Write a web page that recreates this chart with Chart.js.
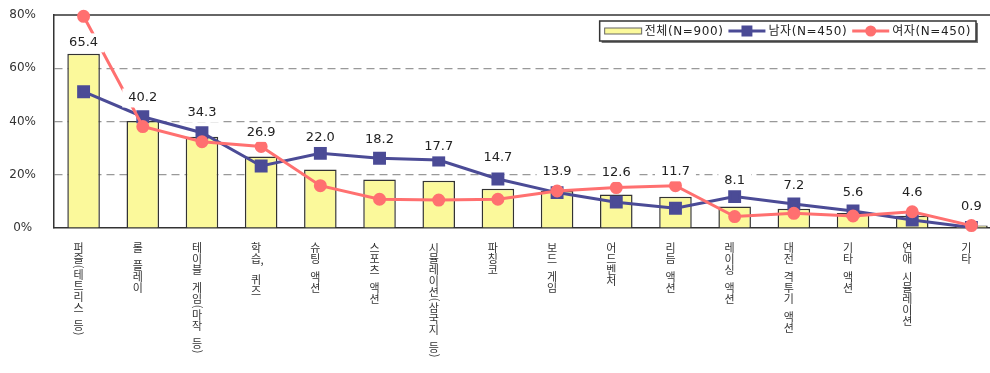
<!DOCTYPE html>
<html lang="ko">
<head>
<meta charset="utf-8">
<title>게임 장르별 선호도</title>
<script src="https://cdn.jsdelivr.net/npm/chart.js@4.4.1/dist/chart.umd.min.js"></script>
<style>
  html, body { margin: 0; padding: 0; background: #fff; overflow: hidden; }
  #wrap { width: 990px; height: 373px; overflow: hidden; }
  canvas { display: block; }
</style>
</head>
<body>
<div id="wrap"><canvas id="genre-chart" width="1001" height="373"></canvas></div>
<script>
// Preferred game genres, % of respondents
const genres = [
  '퍼즐(테트리스 등)', '롤 플레이', '테이블 게임(마작 등)', '학습, 퀴즈',
  '슈팅 액션', '스포츠 액션', '시뮬레이션(삼국지 등)', '파칭코',
  '보드 게임', '어드벤처', '리듬 액션', '레이싱 액션',
  '대전 격투기 액션', '기타 액션', '연애 시뮬레이션', '기타'
];
const totalPct = [65.4, 40.2, 34.3, 26.9, 22.0, 18.2, 17.7, 14.7, 13.9, 12.6, 11.7, 8.1, 7.2, 5.6, 4.6, 0.9];
const malePct = [51.2, 41.8, 35.8, 23.3, 28.1, 26.2, 25.5, 18.4, 13.3, 9.7, 7.4, 11.8, 9.0, 6.4, 3.0, 0.2];
const femalePct = [79.5, 38.1, 32.4, 30.6, 15.9, 10.8, 10.5, 10.8, 13.9, 15.2, 15.9, 4.3, 5.5, 4.5, 6.1, 0.9];
const seriesNames = ['전체(N=900)', '남자(N=450)', '여자(N=450)'];
const yTicks = [0, 20, 40, 60, 80];

const PLOT_LEFT = 54;
const PLOT_BOTTOM = 228;
const latinFont = '"DejaVu Sans", "Noto Sans CJK KR", sans-serif';

// solid frame line along the top of the plot
const topFrame = {
  id: 'topFrame',
  beforeDatasetsDraw(chart) {
    const { ctx, chartArea } = chart;
    ctx.save();
    ctx.strokeStyle = '#333';
    ctx.lineWidth = 1.5;
    ctx.beginPath();
    ctx.moveTo(chartArea.left, chartArea.top);
    ctx.lineTo(chart.width, chartArea.top);
    ctx.stroke();
    ctx.restore();
  }
};

// category names written top-to-bottom under each bar
const stackedLabels = {
  id: 'stackedLabels',
  afterDraw(chart) {
    const { ctx, chartArea } = chart;
    const xs = chart.scales.x;
    ctx.save();
    ctx.font = '11px "Noto Sans CJK KR", sans-serif';
    ctx.fillStyle = '#333';
    ctx.textAlign = 'center';
    ctx.textBaseline = 'middle';
    genres.forEach((name, i) => {
      const cx = xs.getPixelForTick(i) - 5;
      let y = chartArea.bottom + 14;
      for (const ch of name) {
        if (ch === ' ') {
          y += 7;
        } else if (ch === '(' || ch === ')') {
          ctx.save();
          ctx.translate(cx, y + 2.5);
          ctx.rotate(Math.PI / 2);
          ctx.fillText(ch, 0, 0);
          ctx.restore();
          y += 5;
        } else if (ch === ',') {
          ctx.fillText(ch, cx + 6, y - 4);
          y += 3;
        } else {
          ctx.fillText(ch, cx, y + 5.5);
          y += 11;
        }
      }
    });
    ctx.restore();
  }
};

// value boxes above the bars (white background hides lines underneath)
const valueLift = [11, 23, 24, 24, 32, 40, 34, 31, 19, 22, 25, 26, 23, 20, 23, 19];
const barValues = {
  id: 'barValues',
  afterDatasetsDraw(chart) {
    const { ctx } = chart;
    const meta = chart.getDatasetMeta(0);
    ctx.save();
    ctx.font = '13px ' + latinFont;
    ctx.textAlign = 'center';
    ctx.textBaseline = 'middle';
    meta.data.forEach((bar, i) => {
      const text = totalPct[i].toFixed(1);
      const w = ctx.measureText(text).width + 12;
      const h = 19;
      const cy = bar.y - valueLift[i];
      ctx.fillStyle = '#fff';
      ctx.fillRect(bar.x - w / 2, cy - h / 2, w, h);
      ctx.fillStyle = '#222';
      ctx.fillText(text, bar.x, cy);
    });
    ctx.restore();
  }
};

// boxed legend in the top-right corner of the plot
const boxedLegend = {
  id: 'boxedLegend',
  afterDraw(chart) {
    const { ctx, chartArea } = chart;
    const sets = chart.data.datasets;
    ctx.save();
    ctx.font = '12px ' + latinFont;
    ctx.letterSpacing = '0.6px';
    const sample = 37, gapAfterSample = 3, gapBetween = 5, padX = 5, h = 20;
    let w = padX * 2;
    sets.forEach((d, i) => {
      w += sample + gapAfterSample + ctx.measureText(d.label).width + (i ? gapBetween : 0);
    });
    const x0 = chartArea.right - 25 - w;
    const y0 = chartArea.top + 6;
    ctx.fillStyle = '#777';
    ctx.fillRect(x0 + 2, y0 + 2, w, h);
    ctx.fillStyle = '#fff';
    ctx.fillRect(x0, y0, w, h);
    ctx.strokeStyle = '#333';
    ctx.lineWidth = 1.5;
    ctx.strokeRect(x0, y0, w, h);

    let x = x0 + padX;
    const cy = y0 + h / 2;
    sets.forEach((d, i) => {
      if (i) x += gapBetween;
      if (d.type === 'bar') {
        ctx.fillStyle = d.backgroundColor;
        ctx.fillRect(x, cy - 3, sample, 6);
        ctx.strokeStyle = '#666';
        ctx.lineWidth = 1;
        ctx.strokeRect(x, cy - 3, sample, 6);
      } else {
        ctx.strokeStyle = d.borderColor;
        ctx.lineWidth = d.borderWidth;
        ctx.beginPath();
        ctx.moveTo(x, cy);
        ctx.lineTo(x + sample, cy);
        ctx.stroke();
        Chart.helpers.drawPoint(ctx, {
          pointStyle: d.pointStyle,
          radius: d.pointRadius * 0.8,
          borderWidth: 1
        }, x + sample / 2, cy);
        ctx.fillStyle = d.pointBackgroundColor;
        ctx.fill();
      }
      x += sample + gapAfterSample;
      ctx.fillStyle = '#222';
      ctx.textAlign = 'left';
      ctx.textBaseline = 'middle';
      ctx.fillText(d.label, x, cy + 1);
      x += ctx.measureText(d.label).width;
    });
    ctx.restore();
  }
};

Chart.defaults.font.family = latinFont;
Chart.defaults.color = '#333';

const ctx = document.getElementById('genre-chart').getContext('2d');
new Chart(ctx, {
  data: {
    labels: genres,
    datasets: [
      {
        type: 'bar',
        label: seriesNames[0],
        data: totalPct,
        backgroundColor: '#FBF99B',
        borderColor: '#333',
        borderWidth: 1.5,
        barPercentage: 0.55,
        categoryPercentage: 1,
        order: 3
      },
      {
        type: 'line',
        label: seriesNames[1],
        data: malePct,
        borderColor: '#4B4B96',
        backgroundColor: '#4B4B96',
        pointBackgroundColor: '#4B4B96',
        pointBorderColor: '#4B4B96',
        borderWidth: 3,
        pointStyle: 'rect',
        pointRadius: 7,
        order: 2
      },
      {
        type: 'line',
        label: seriesNames[2],
        data: femalePct,
        borderColor: '#FF7070',
        backgroundColor: '#FF7070',
        pointBackgroundColor: '#FF7070',
        pointBorderColor: '#FF7070',
        borderWidth: 3,
        pointStyle: 'circle',
        pointRadius: 5,
        clip: false,
        order: 1
      }
    ]
  },
  options: {
    responsive: false,
    animation: false,
    layout: { autoPadding: false, padding: { top: 15, right: 0, bottom: 0, left: 0 } },
    plugins: {
      legend: { display: false },
      tooltip: { enabled: false }
    },
    scales: {
      x: {
        grid: { display: false, drawTicks: false },
        border: { color: '#333', width: 1.5 },
        ticks: { display: false },
        afterFit(scale) { scale.height = scale.chart.height - PLOT_BOTTOM; }
      },
      y: {
        min: 0,
        max: 80,
        afterBuildTicks(scale) { scale.ticks = yTicks.map(v => ({ value: v })); },
        grid: {
          drawTicks: false,
          color: c => (c.tick && c.tick.value > 0 && c.tick.value < 80 ? '#999' : 'transparent'),
          lineWidth: 1.2
        },
        border: { color: '#333', width: 1.5, dash: [8, 5] },
        ticks: {
          crossAlign: 'center',
          padding: 18,
          color: '#333',
          font: { size: 12 },
          callback: v => v + '%'
        },
        afterFit(scale) {
          scale.width = PLOT_LEFT;
          scale.paddingTop = 0;
          scale.paddingBottom = 0;
        }
      }
    }
  },
  plugins: [topFrame, stackedLabels, barValues, boxedLegend]
});
</script>
</body>
</html>
